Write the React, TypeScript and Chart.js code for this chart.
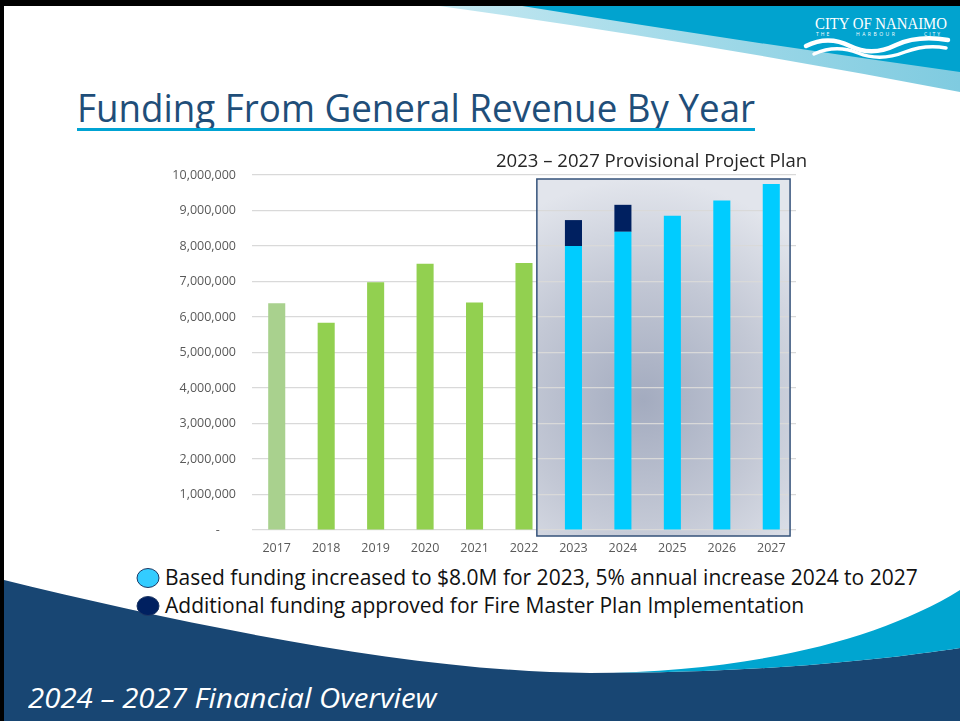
import React, { useEffect, useRef } from 'react';
import { Chart, registerables } from 'chart.js';

Chart.register(...registerables);

const years = ['2017', '2018', '2019', '2020', '2021', '2022', '2023', '2024', '2025', '2026', '2027'];
const baseFunding = [6390000, 5840000, 6980000, 7500000, 6410000, 7520000, 8000000, 8400000, 8850000, 9280000, 9750000];
const additionalFunding = [null, null, null, null, null, null, 730000, 760000, null, null, null];
const baseColors = ['#a9d18e', '#92d050', '#92d050', '#92d050', '#92d050', '#92d050', '#00ccff', '#00ccff', '#00ccff', '#00ccff', '#00ccff'];
const additionalColor = '#002060';
const yMax = 10000000;
const yStep = 1000000;
const planFirstIndex = 6;
const planLastIndex = 10;

const slideTitle = 'Funding From General Revenue By Year';
const planTitle = '2023 – 2027 Provisional Project Plan';
const legendItems = [
  { text: 'Based funding increased to $8.0M for 2023, 5% annual increase 2024 to 2027', color: '#33ccff' },
  { text: 'Additional funding approved for Fire Master Plan Implementation', color: '#002060' },
];
const footerText = '2024 – 2027 Financial Overview';

const FONT = "'Open Sans', 'DejaVu Sans', sans-serif";

function planBounds(chart: any) {
  const { scales, chartArea } = chart;
  const x = scales.x;
  const step = x.getPixelForValue(1) - x.getPixelForValue(0);
  const left = x.getPixelForValue(planFirstIndex - 1) + step * 0.26;
  const right = x.getPixelForValue(planLastIndex) + step * 0.38;
  const top = chartArea.top + 4;
  const bottom = chartArea.bottom + 6;
  return { left, right, top, bottom };
}

const planBoxPlugin = {
  id: 'planBox',
  beforeDraw(chart: any) {
    const { ctx } = chart;
    const { left, right, top, bottom } = planBounds(chart);
    const w = right - left;
    const h = bottom - top;
    const cx = left + w * 0.42;
    const cy = top + h * 0.62;
    ctx.save();
    const g = ctx.createRadialGradient(cx, cy, 0, cx, cy, Math.max(w, h) * 0.62);
    g.addColorStop(0, '#a3abbf');
    g.addColorStop(0.55, '#c3c8d5');
    g.addColorStop(1, '#e2e5ec');
    ctx.fillStyle = g;
    ctx.fillRect(left, top, w, h);
    ctx.restore();
  },
  afterDatasetsDraw(chart: any) {
    const { ctx } = chart;
    const { left, right, top, bottom } = planBounds(chart);
    ctx.save();
    ctx.strokeStyle = '#34527a';
    ctx.lineWidth = 1.5;
    ctx.strokeRect(left, top, right - left, bottom - top);
    ctx.restore();
  },
};

function FundingChart() {
  const ref = useRef<HTMLCanvasElement | null>(null);
  useEffect(() => {
    if (!ref.current) return;
    const chart = new Chart(ref.current, {
      type: 'bar',
      data: {
        labels: years,
        datasets: [
          {
            label: 'Base funding',
            data: baseFunding,
            backgroundColor: baseColors,
            stack: 'funding',
            barPercentage: 0.345,
            categoryPercentage: 1,
          },
          {
            label: 'Additional funding',
            data: additionalFunding as any,
            backgroundColor: additionalColor,
            stack: 'funding',
            barPercentage: 0.345,
            categoryPercentage: 1,
          },
        ],
      },
      options: {
        animation: false,
        responsive: false,
        maintainAspectRatio: false,
        layout: { padding: { top: 35, right: 14, left: 0, bottom: 0 } },
        plugins: { legend: { display: false }, tooltip: { enabled: false } },
        scales: {
          x: {
            stacked: true,
            grid: { display: false, drawTicks: false },
            border: { display: false },
            ticks: { color: '#595959', font: { family: FONT, size: 12.5 }, padding: 11, maxRotation: 0 },
            afterFit(s: any) { s.height = 30; },
          },
          y: {
            stacked: true,
            min: 0,
            max: yMax,
            grid: { color: '#d9d9d9', drawTicks: false, lineWidth: 1.2 },
            border: { display: false },
            ticks: {
              stepSize: yStep,
              color: '#595959',
              font: { family: FONT, size: 12.5 },
              padding: 16,
              callback: (v: any) => (Number(v) === 0 ? '-     ' : Number(v).toLocaleString('en-US')),
            },
            afterFit(s: any) { s.width = 92; },
          },
        },
      } as any,
      plugins: [planBoxPlugin],
    });
    return () => chart.destroy();
  }, []);
  return (
    <canvas
      ref={ref}
      width={650}
      height={420}
      style={{ position: 'absolute', left: 160, top: 140, width: 650, height: 420 }}
    />
  );
}

export default function App() {
  return (
    <div
      style={{
        position: 'absolute',
        left: 0,
        top: 0,
        width: 960,
        height: 721,
        overflow: 'hidden',
        background: '#ffffff',
        fontFamily: FONT,
      }}
    >
      <svg width={960} height={721} style={{ position: 'absolute', left: 0, top: 0 }}>
        <defs>
          <linearGradient id="swoosh" x1="0" y1="0" x2="1" y2="0">
            <stop offset="0" stopColor="#c4e8f1" />
            <stop offset="1" stopColor="#7fcbe0" />
          </linearGradient>
        </defs>
        <path d="M432,5 Q700,42 960,92 L960,5 Z" fill="url(#swoosh)" />
        <path d="M516,5 Q745,42 960,72 L960,5 Z" fill="#01a3cf" />
        <path d="M0,579 C200,628 420,672 590,673 C760,673 880,660 960,648 L960,721 L0,721 Z" fill="#184673" />
        <path d="M590,673 C750,672 880,640 960,590 L960,648 C880,660 760,673 590,673 Z" fill="#00a5d0" />
        <rect x={0} y={0} width={960} height={6} fill="#000" />
        <rect x={0} y={0} width={4} height={721} fill="#000" />
        <path d="M806,46 Q828,35 850,46 Q872,57 896,45 Q918,35 948,40" stroke="#fff" strokeWidth={4.5} fill="none" strokeLinecap="round" />
        <path d="M814,54 Q836,44 858,53 Q880,62 905,52 Q926,44 946,48" stroke="#fff" strokeWidth={3.5} fill="none" strokeLinecap="round" />
        <text x={815} y={29} fill="#fff" fontFamily="'Liberation Serif', serif" fontSize={17} textLength={132} lengthAdjust="spacingAndGlyphs">
          CITY OF NANAIMO
        </text>
        <text x={816} y={35.5} fill="#fff" fontFamily={FONT} fontSize={5} letterSpacing={2}>THE</text>
        <text x={856} y={35.5} fill="#fff" fontFamily={FONT} fontSize={5} letterSpacing={2.5}>HARBOUR</text>
        <text x={924} y={35.5} fill="#fff" fontFamily={FONT} fontSize={5} letterSpacing={2}>CITY</text>
        <ellipse cx={148} cy={578} rx={11} ry={9.5} fill="#33ccff" stroke="#1f3864" strokeWidth={1} />
        <ellipse cx={148} cy={606} rx={11} ry={9.5} fill="#002060" stroke="#1f3864" strokeWidth={1} />
      </svg>

      <div
        style={{
          position: 'absolute',
          left: 77,
          top: 84,
          fontSize: 38,
          lineHeight: '46px',
          color: '#1f4e79',
          whiteSpace: 'nowrap',
          transform: 'scaleX(0.967)',
          transformOrigin: 'left center',
        }}
      >
        {slideTitle}
      </div>
      <div style={{ position: 'absolute', left: 77, top: 128, width: 678, height: 3, background: '#00a3d3' }} />

      <FundingChart />

      <div
        style={{
          position: 'absolute',
          left: 496,
          top: 149,
          fontSize: 17.5,
          lineHeight: '22px',
          color: '#262626',
          whiteSpace: 'nowrap',
          transform: 'scaleX(1.06)',
          transformOrigin: 'left center',
        }}
      >
        {planTitle}
      </div>

      {legendItems.map((item, i) => (
        <div
          key={i}
          style={{
            position: 'absolute',
            left: 165,
            top: 563 + i * 28,
            fontSize: 21,
            lineHeight: '28px',
            color: '#111111',
            whiteSpace: 'nowrap',
          }}
        >
          {item.text}
        </div>
      ))}

      <div
        style={{
          position: 'absolute',
          left: 28,
          top: 679,
          fontSize: 28,
          lineHeight: '36px',
          fontStyle: 'italic',
          color: '#ffffff',
          whiteSpace: 'nowrap',
          transform: 'scaleX(1.05)',
          transformOrigin: 'left center',
        }}
      >
        {footerText}
      </div>
    </div>
  );
}
